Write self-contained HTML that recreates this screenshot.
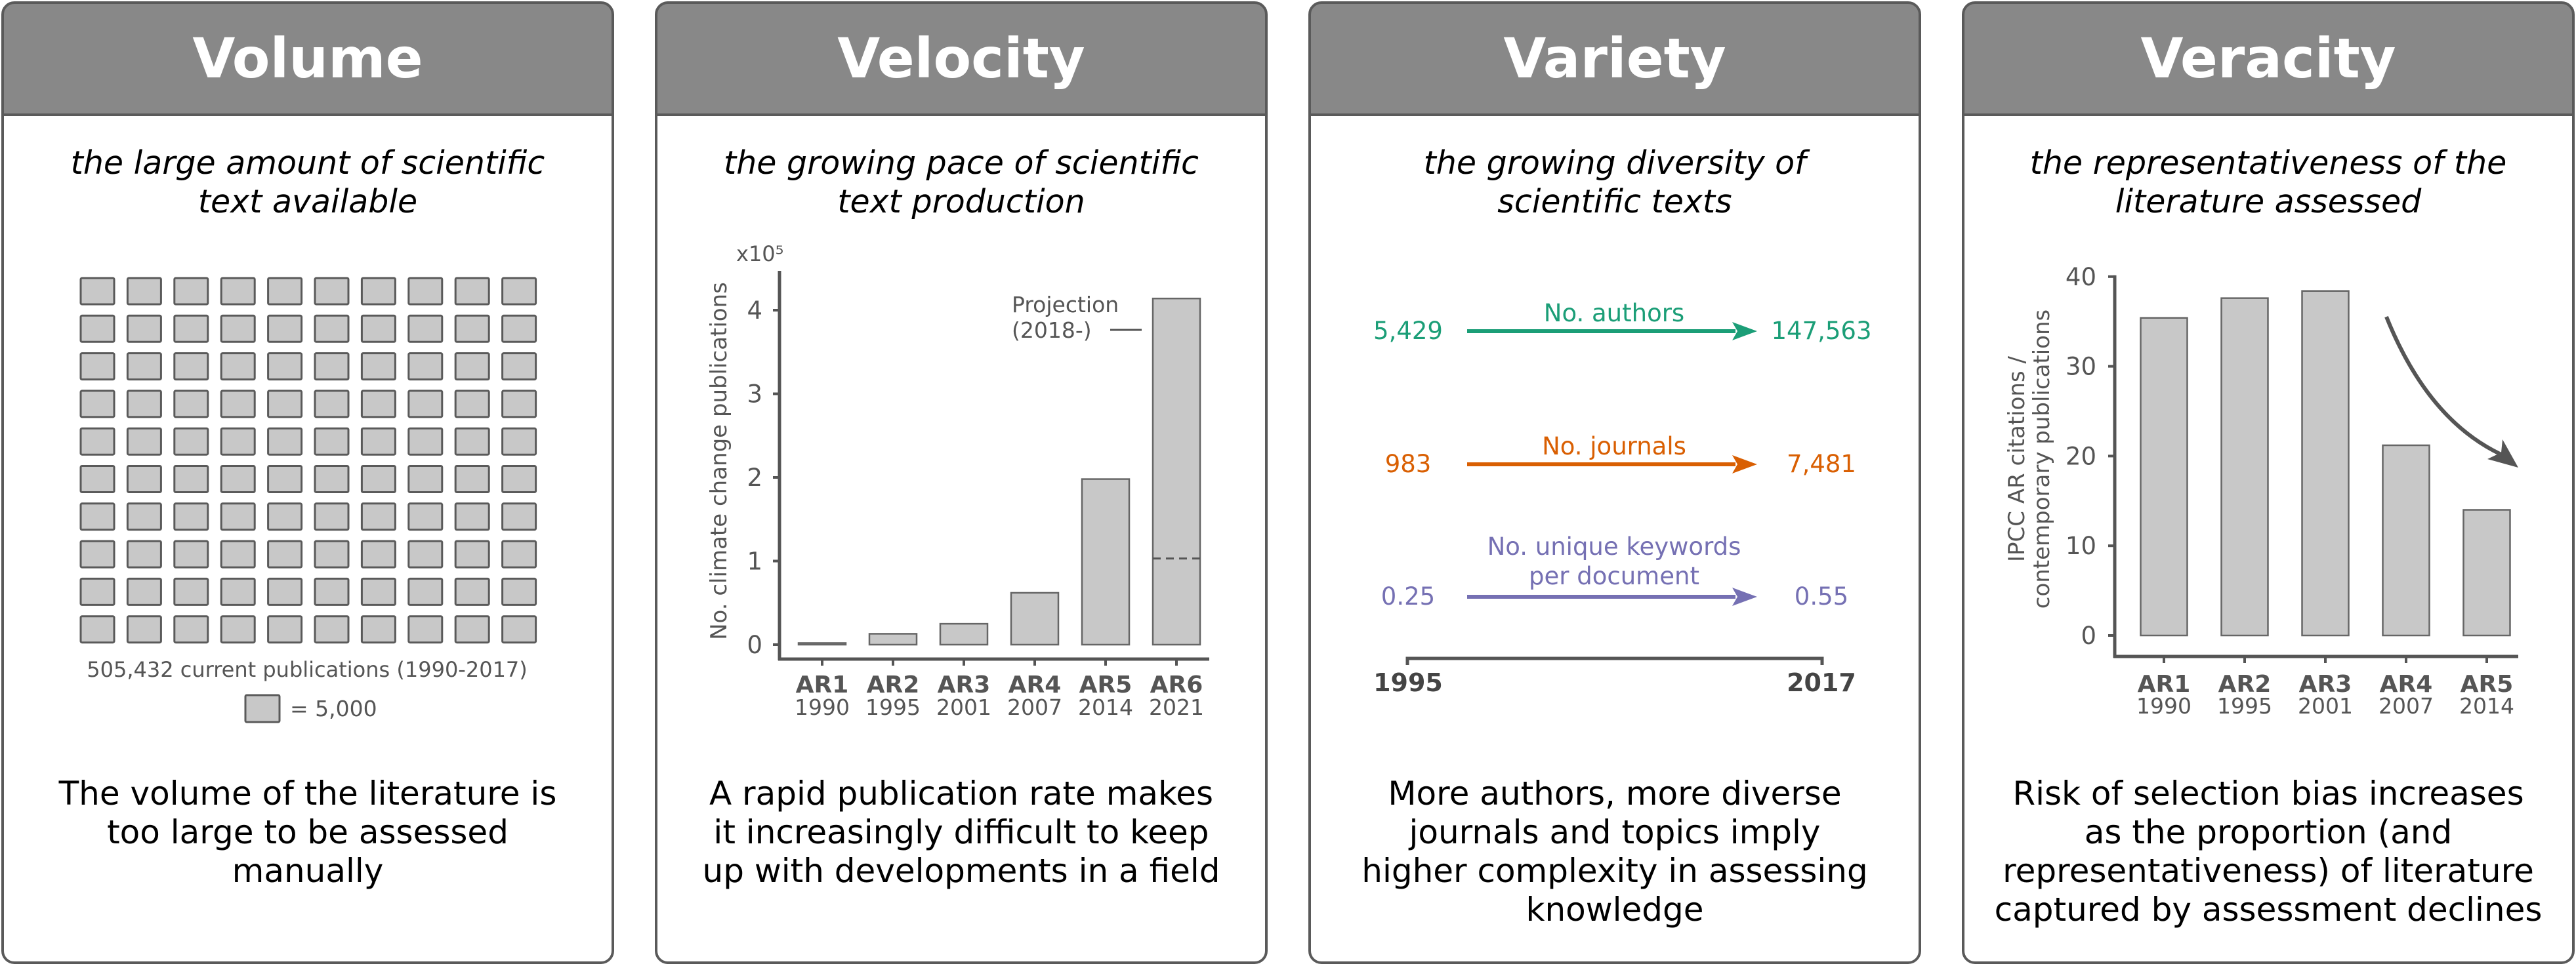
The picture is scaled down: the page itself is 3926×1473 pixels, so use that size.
<!DOCTYPE html>
<html><head><meta charset="utf-8"><style>
html,body{margin:0;padding:0;background:#fff;}
svg{display:block;}
text{font-family:"DejaVu Sans","Liberation Sans",sans-serif;}
</style></head>
<body>
<svg id="fig" width="3926" height="1473" viewBox="0 0 3926 1473" xmlns="http://www.w3.org/2000/svg">
</svg>
<script>
// ===== Velocity chart data =====
const velCategories = ["AR1","AR2","AR3","AR4","AR5","AR6"];
const velYears = ["1990","1995","2001","2007","2014","2021"];
const velValues = [0.02, 0.13, 0.25, 0.62, 1.98, 4.14];
const velProjectionStart = 1.03;
const velTicks = [0,1,2,3,4];
// ===== Veracity chart data =====
const verCategories = ["AR1","AR2","AR3","AR4","AR5"];
const verYears = ["1990","1995","2001","2007","2014"];
const verValues = [35.4, 37.6, 38.4, 21.2, 14.0];
const verTicks = [0,10,20,30,40];
// ===== Variety data =====
const varLabels = [["No. authors"],["No. journals"],["No. unique keywords","per document"]];
const varStart = ["5,429","983","0.25"];
const varEnd = ["147,563","7,481","0.55"];
const varColors = ["#1b9e77","#d95f02","#7570b3"];
// ===== Volume data =====
const volTotal = 505432;
const volUnit = 5000;

const NS="http://www.w3.org/2000/svg";
const svg=document.getElementById('fig');
function el(tag,attrs,parent,txt){const e=document.createElementNS(NS,tag);for(const k in attrs)e.setAttribute(k,attrs[k]);if(txt!==undefined)e.textContent=txt;(parent||svg).appendChild(e);return e;}

const panelX=[4,1000,1996,2992], panelW=930;
const titles=["Volume","Velocity","Variety","Veracity"];
const subs=[["the large amount of scientific","text available"],["the growing pace of scientific","text production"],["the growing diversity of","scientific texts"],["the representativeness of the","literature assessed"]];
const bottoms=[["The volume of the literature is","too large to be assessed","manually"],["A rapid publication rate makes","it increasingly difficult to keep","up with developments in a field"],["More authors, more diverse","journals and topics imply","higher complexity in assessing","knowledge"],["Risk of selection bias increases","as the proportion (and","representativeness) of literature","captured by assessment declines"]];
for(let i=0;i<4;i++){
  const g=el('g',{});
  
  
  const x=panelX[i], cx=x+panelW/2;
  const hdr=`M${x},175 L${x},22 Q${x},4 ${x+18},4 L${x+panelW-18},4 Q${x+panelW},4 ${x+panelW},22 L${x+panelW},175 Z`;
  const p1=el('path',{d:hdr,fill:'#888'},g);
  
  
  const r=el('rect',{x:x,y:4,width:panelW,height:1464,rx:18,fill:'none',stroke:'#5a5a5a','stroke-width':4},g);
  
  
  el('line',{x1:x,x2:x+panelW,y1:175,y2:175,stroke:'#5a5a5a','stroke-width':4},g);
  const t=el('text',{x:cx,y:118,'text-anchor':'middle','font-size':84,'font-weight':'bold',fill:'#fff'},g,titles[i]);
  
  
  subs[i].forEach((s,j)=>{
    const st=el('text',{x:cx,y:265+j*59,'text-anchor':'middle','font-size':49,'font-style':'italic',fill:'#000'},g,s);
    
    
  });
  bottoms[i].forEach((s,j)=>{
    const bt=el('text',{x:cx,y:1227+j*59,'text-anchor':'middle','font-size':50,fill:'#000'},g,s);
    
    
  });
}

// ===== Volume grid =====
const nSquares=Math.floor(volTotal/volUnit/10)*10;
for(let k=0;k<nSquares;k++){
  const c=k%10, rr=Math.floor(k/10);
  const s=el('rect',{x:123+c*71.4,y:424+rr*57.3,width:51,height:40,fill:'#c8c8c8',stroke:'#5a5a5a','stroke-width':3,rx:2});
  
  
}
let vt=el('text',{x:468,y:1032,'text-anchor':'middle','font-size':32,fill:'#555'},svg,volTotal.toLocaleString('en-US')+" current publications (1990-2017)");


let ls=el('rect',{x:374,y:1060,width:52,height:41,fill:'#c8c8c8',stroke:'#5a5a5a','stroke-width':3,rx:2});


let lt=el('text',{x:442,y:1092,'font-size':33,fill:'#555'},svg,"= "+volUnit.toLocaleString('en-US'));



// ===== Velocity chart =====
(function(){
  const ax=1188, y0=983, unit=127.5, xStep=108, x0c=1253, bw=72, axY=1005;
  const yS=v=>y0-v*unit, xS=i=>x0c+i*xStep;
  const g=el('g',{});
  
  
  velValues.forEach((v,i)=>{
    const b=el('rect',{x:xS(i)-bw/2,y:yS(v),width:bw,height:y0-yS(v),fill:'#c8c8c8',stroke:'#666','stroke-width':2.5},g);
    
    
  });
  const last=velValues.length-1;
  const d=el('line',{x1:xS(last)-bw/2,x2:xS(last)+bw/2,y1:yS(velProjectionStart),y2:yS(velProjectionStart),stroke:'#555','stroke-width':3,'stroke-dasharray':'12,8'},g);
  
  
  const ya=el('line',{x1:ax,x2:ax,y1:413,y2:axY+2,stroke:'#555','stroke-width':5},g);
  
  
  const xa=el('line',{x1:ax-2,x2:1843,y1:axY,y2:axY,stroke:'#555','stroke-width':5},g);
  
  
  velTicks.forEach(t=>{
    el('line',{x1:ax-10,x2:ax,y1:yS(t),y2:yS(t),stroke:'#555','stroke-width':4},g);
    const tl=el('text',{x:1162,y:yS(t)+13,'text-anchor':'end','font-size':37,fill:'#555'},g,String(t));
    
    
  });
  velCategories.forEach((c,i)=>{
    el('line',{x1:xS(i),x2:xS(i),y1:axY,y2:axY+10,stroke:'#555','stroke-width':4},g);
    const a=el('text',{x:xS(i),y:1056,'text-anchor':'middle','font-size':36,'font-weight':'bold',fill:'#555'},g,c);
    
    
    const yy=el('text',{x:xS(i),y:1090,'text-anchor':'middle','font-size':33,fill:'#555'},g,velYears[i]);
    
    
  });
  const yl=el('text',{x:1107,y:703,'text-anchor':'middle','font-size':34,fill:'#555',transform:'rotate(-90 1107 703)'},g,"No. climate change publications");
  
  
  const sc=el('text',{x:1122,y:398,'font-size':32,fill:'#555'},g,"x10⁵");
  
  
  const p1=el('text',{x:1542,y:476,'font-size':33,fill:'#555'},g,"Projection");
  
  
  el('text',{x:1542,y:515,'font-size':33,fill:'#555'},g,"(2018-)");
  const pl=el('line',{x1:1692,x2:1740,y1:503,y2:503,stroke:'#555','stroke-width':3},g);
  
  
})();

// ===== Variety =====
(function(){
  const g=el('g',{});
  
  
  const rowY=[505,708,910];
  varLabels.forEach((lab,i)=>{
    const y=rowY[i], col=varColors[i];
    const ln=el('line',{x1:2236,x2:2645,y1:y,y2:y,stroke:col,'stroke-width':6},g);
    
    
    el('path',{d:`M2640,${y-14} L2678,${y} L2640,${y+14} L2648,${y} Z`,fill:col},g);
    const s=el('text',{x:2146,y:y+12,'text-anchor':'middle','font-size':37,fill:col},g,varStart[i]);
    
    
    const e=el('text',{x:2776,y:y+12,'text-anchor':'middle','font-size':37,fill:col},g,varEnd[i]);
    
    
    lab.forEach((l,j)=>{
      const n=lab.length;
      const yy=(n===1? y-15 : y-64+j*45);
      const t=el('text',{x:2460,y:yy,'text-anchor':'middle','font-size':37,fill:col},g,l);
      
      
    });
  });
  const a=el('path',{d:'M2145,1014 L2145,1004 L2777,1004 L2777,1014',fill:'none',stroke:'#555','stroke-width':5},g);
  
  
  const l1=el('text',{x:2146,y:1054,'text-anchor':'middle','font-size':38,'font-weight':'bold',fill:'#444'},g,"1995");
  
  
  const l2=el('text',{x:2776,y:1054,'text-anchor':'middle','font-size':38,'font-weight':'bold',fill:'#444'},g,"2017");
  
  
})();

// ===== Veracity chart =====
(function(){
  const ax=3223, y0=969, unit=13.68, xStep=123, x0c=3298, bw=71, axY=1001;
  const yS=v=>y0-v*unit, xS=i=>x0c+i*xStep;
  const g=el('g',{});
  
  
  verValues.forEach((v,i)=>{
    const b=el('rect',{x:xS(i)-bw/2,y:yS(v),width:bw,height:y0-yS(v),fill:'#c8c8c8',stroke:'#666','stroke-width':2.5},g);
    
    
  });
  const ya=el('line',{x1:ax,x2:ax,y1:yS(40)-2,y2:axY+2,stroke:'#555','stroke-width':5},g);
  
  
  const xa=el('line',{x1:ax-2,x2:3838,y1:axY,y2:axY,stroke:'#555','stroke-width':5},g);
  
  
  verTicks.forEach(t=>{
    el('line',{x1:ax-10,x2:ax,y1:yS(t),y2:yS(t),stroke:'#555','stroke-width':4},g);
    const tl=el('text',{x:3195,y:yS(t)+13,'text-anchor':'end','font-size':37,fill:'#555'},g,String(t));
    
    
  });
  verCategories.forEach((c,i)=>{
    el('line',{x1:xS(i),x2:xS(i),y1:axY,y2:axY+10,stroke:'#555','stroke-width':4},g);
    const a=el('text',{x:xS(i),y:1055,'text-anchor':'middle','font-size':36,'font-weight':'bold',fill:'#555'},g,c);
    
    
    const yy=el('text',{x:xS(i),y:1088,'text-anchor':'middle','font-size':33,fill:'#555'},g,verYears[i]);
    
    
  });
  const y1=el('text',{x:3085,y:700,'text-anchor':'middle','font-size':34,fill:'#555',transform:'rotate(-90 3085 700)'},g,"IPCC AR citations /");
  
  
  el('text',{x:3123,y:700,'text-anchor':'middle','font-size':34,fill:'#555',transform:'rotate(-90 3123 700)'},g,"contemporary publications");
  const ar=el('path',{d:'M3637,483 Q3700,640 3812,693',fill:'none',stroke:'#555','stroke-width':6},g);
  
  
  el('path',{d:'M3838,713 L3791,700 L3812,690 L3814,670 Z',fill:'#555'},g);
})();
</script>
</body></html>
